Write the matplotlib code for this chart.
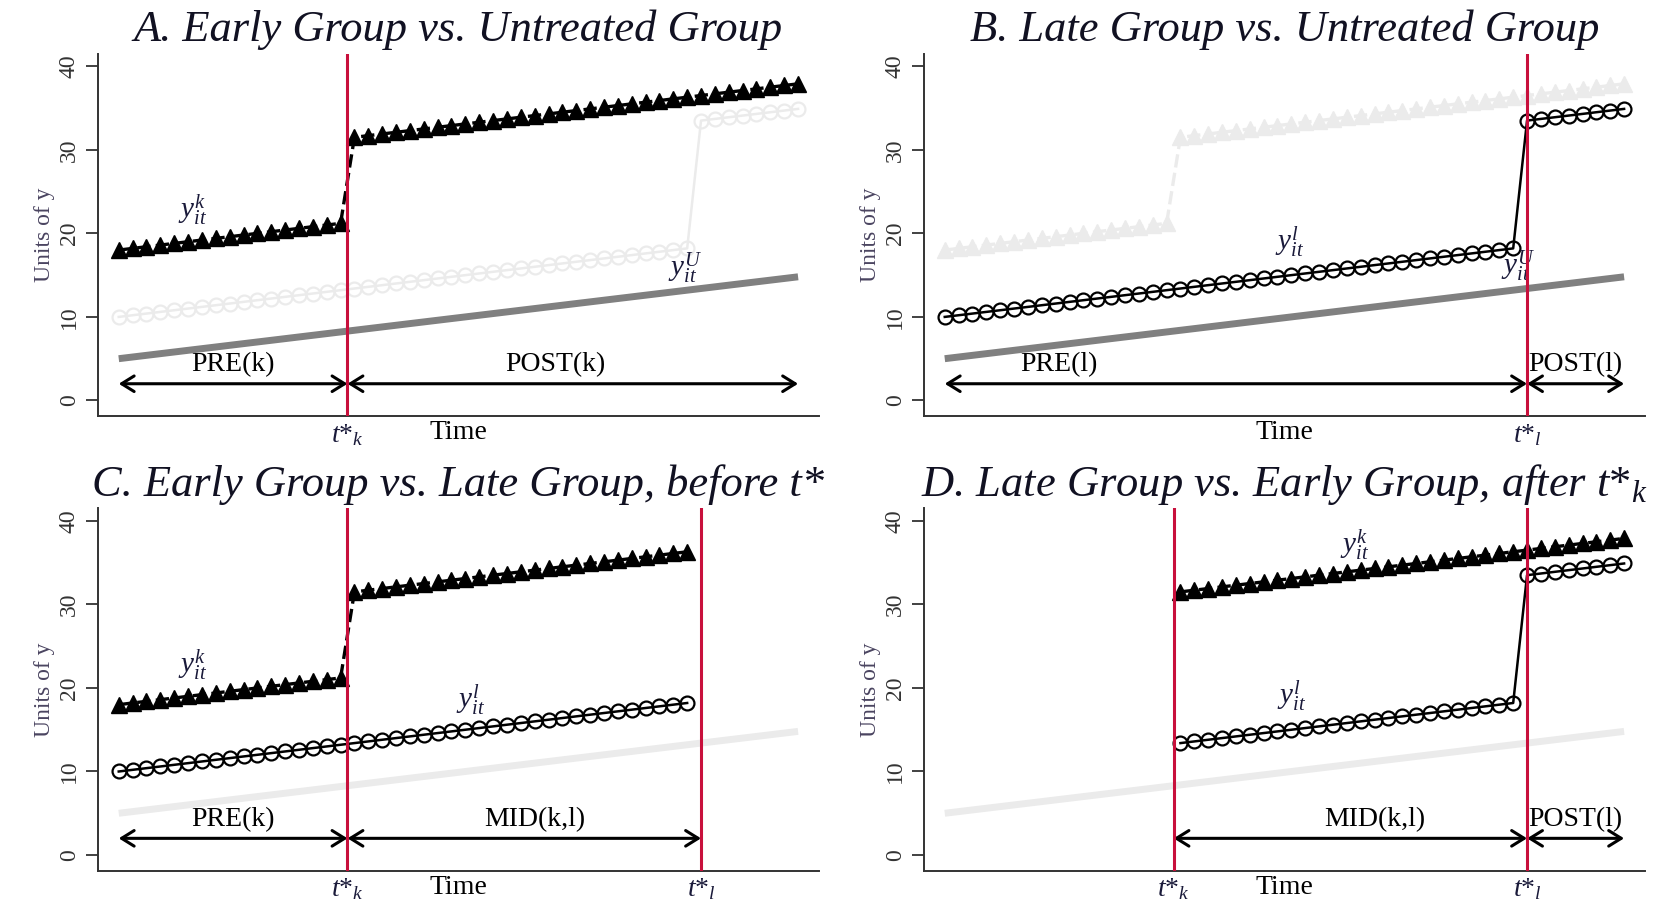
import numpy as np
import matplotlib.pyplot as plt

plt.rcParams['font.family'] = ['Liberation Serif', 'DejaVu Serif']
plt.rcParams['mathtext.fontset'] = 'custom'
plt.rcParams['mathtext.rm'] = 'Liberation Serif'
plt.rcParams['mathtext.it'] = 'Liberation Serif:italic'

# time periods (every other period of 1..100)
time = np.array([1, 3, 5, 7, 9, 11, 13, 15, 17, 19, 21, 23, 25, 27, 29, 31, 33,
                 35, 37, 39, 41, 43, 45, 47, 49, 51, 53, 55, 57, 59, 61, 63, 65,
                 67, 69, 71, 73, 75, 77, 79, 81, 83, 85, 87, 89, 91, 93, 95, 97, 99])

y_untreated = np.array([5.0, 5.2, 5.4, 5.6, 5.8, 6.0, 6.2, 6.4, 6.6, 6.8, 7.0, 7.2,
                        7.4, 7.6, 7.8, 8.0, 8.2, 8.4, 8.6, 8.8, 9.0, 9.2, 9.4, 9.6,
                        9.8, 10.0, 10.2, 10.4, 10.6, 10.8, 11.0, 11.2, 11.4, 11.6,
                        11.8, 12.0, 12.2, 12.4, 12.6, 12.8, 13.0, 13.2, 13.4, 13.6,
                        13.8, 14.0, 14.2, 14.4, 14.6, 14.8])

y_early = np.array([18.0, 18.2, 18.4, 18.6, 18.8, 19.0, 19.2, 19.4, 19.6, 19.8,
                    20.0, 20.2, 20.4, 20.6, 20.8, 21.0, 21.2,
                    31.5, 31.7, 31.9, 32.1, 32.3, 32.5, 32.7, 32.9, 33.1, 33.3,
                    33.5, 33.7, 33.9, 34.1, 34.3, 34.5, 34.7, 34.9, 35.1, 35.3,
                    35.5, 35.7, 35.9, 36.1, 36.3, 36.5, 36.7, 36.9, 37.1, 37.3,
                    37.5, 37.7, 37.9])

y_late = np.array([10.0, 10.2, 10.4, 10.6, 10.8, 11.0, 11.2, 11.4, 11.6, 11.8,
                   12.0, 12.2, 12.4, 12.6, 12.8, 13.0, 13.2, 13.4, 13.6, 13.8,
                   14.0, 14.2, 14.4, 14.6, 14.8, 15.0, 15.2, 15.4, 15.6, 15.8,
                   16.0, 16.2, 16.4, 16.6, 16.8, 17.0, 17.2, 17.4, 17.6, 17.8,
                   18.0, 18.2,
                   33.5, 33.7, 33.9, 34.1, 34.3, 34.5, 34.7, 34.9])

t_k = 34
t_l = 85
t_first = 1
t_last = 99

titles = ['A. Early Group vs. Untreated Group',
          'B. Late Group vs. Untreated Group',
          'C. Early Group vs. Late Group, before t*',
          r'D. Late Group vs. Early Group, after $t{*}_{k}$']

BLACK = 'black'
FADED = '#ebebeb'
GRAY = '#808080'
RED = '#c8103c'
NAVY = '#1a1a3a'

fig = plt.figure(figsize=(16.6, 9.11), dpi=100)
w, h = 0.4343, 0.398
axA = fig.add_axes([0.0590, 0.5430, w, h])
axB = fig.add_axes([0.5566, 0.5430, w, h])
axC = fig.add_axes([0.0590, 0.0440, w, h])
axD = fig.add_axes([0.5566, 0.0440, w, h])


def early(ax, mask, color):
    ax.plot(time[mask], y_early[mask], color=color, lw=2.4, ls=(0, (4, 1.6)),
            marker='^', ms=11.5, mfc=color, mec=color, zorder=3)


def late(ax, mask, color):
    ax.plot(time[mask], y_late[mask], color=color, lw=1.8,
            marker='o', ms=10, mfc='none', mec=color, mew=1.6, zorder=3)


def untreated(ax, color):
    ax.plot(time, y_untreated, color=color, lw=5, solid_capstyle='butt', zorder=2)


def span(ax, x0, x1, label, xlab):
    ax.annotate('', xy=(x1, 2), xytext=(x0, 2),
                arrowprops=dict(arrowstyle='<->,head_length=0.45,head_width=0.28',
                                lw=2.2, color='black', shrinkA=0, shrinkB=0,
                                mutation_scale=20))
    ax.text(xlab, 4.3, label, ha='center', va='center', fontsize=20)


def ylab(ax, x, y, s):
    ax.text(x, y, s, fontsize=21, color=NAVY, ha='left', va='baseline', zorder=5)


full = np.ones(len(time), dtype=bool)
before_l = time < t_l
after_k = time > t_k

# A
untreated(axA, GRAY)
late(axA, full, FADED)
early(axA, full, BLACK)
span(axA, t_first, t_k, 'PRE(k)', 17.5)
span(axA, t_k, t_last, 'POST(k)', 64)
ylab(axA, 9.6, 21.8, r'$y^{k}_{it}$')
ylab(axA, 80.3, 14.9, r'$y^{U}_{it}$')
reds = {axA: [t_k]}

# B
untreated(axB, GRAY)
early(axB, full, FADED)
late(axB, full, BLACK)
span(axB, t_first, t_l, 'PRE(l)', 17.5)
span(axB, t_l, t_last, 'POST(l)', 92)
ylab(axB, 48.6, 18.0, r'$y^{l}_{it}$')
ylab(axB, 81.2, 15.1, r'$y^{U}_{it}$')
reds[axB] = [t_l]

# C
untreated(axC, FADED)
late(axC, before_l, BLACK)
early(axC, before_l, BLACK)
span(axC, t_first, t_k, 'PRE(k)', 17.5)
span(axC, t_k, t_l, 'MID(k,l)', 61)
ylab(axC, 9.6, 21.8, r'$y^{k}_{it}$')
ylab(axC, 49.6, 17.6, r'$y^{l}_{it}$')
reds[axC] = [t_k, t_l]

# D
untreated(axD, FADED)
late(axD, after_k, BLACK)
early(axD, after_k, BLACK)
span(axD, t_k, t_l, 'MID(k,l)', 63)
span(axD, t_l, t_last, 'POST(l)', 92)
ylab(axD, 58.0, 36.1, r'$y^{k}_{it}$')
ylab(axD, 48.9, 18.1, r'$y^{l}_{it}$')
reds[axD] = [t_k, t_l]

tick_names = {t_k: r'$t{*}_{k}$', t_l: r'$t{*}_{l}$'}

for ax, title in zip([axA, axB, axC, axD], titles):
    ax.set_xlim(-2, 102)
    ax.set_ylim(-1.9, 41.5)
    for x in reds[ax]:
        ax.axvline(x, color=RED, lw=2.2, zorder=6)
    ax.spines['top'].set_visible(False)
    ax.spines['right'].set_visible(False)
    for s in ('left', 'bottom'):
        ax.spines[s].set_linewidth(1.4)
        ax.spines[s].set_color('#333333')
    ax.set_yticks([0, 10, 20, 30, 40])
    ax.tick_params(axis='y', length=9, width=1.3, pad=4, labelsize=17,
                   labelrotation=90, colors='#333333')
    for lbl in ax.get_yticklabels():
        lbl.set_va('center')
    ax.set_xticks(reds[ax])
    ax.set_xticklabels([tick_names[x] for x in reds[ax]])
    ax.tick_params(axis='x', length=0, pad=4, labelsize=20, labelcolor=NAVY)
    ax.set_ylabel('Units of y', fontsize=17, color='#4a4460', labelpad=3)
    ax.annotate('Time', xy=(0.5, 0), xycoords='axes fraction', xytext=(0, -3),
                textcoords='offset points', ha='center', va='top', fontsize=20)
    ax.set_title(title, fontsize=32, style='italic', color='#111122', pad=9)

fig.savefig('out.png', dpi=100)
